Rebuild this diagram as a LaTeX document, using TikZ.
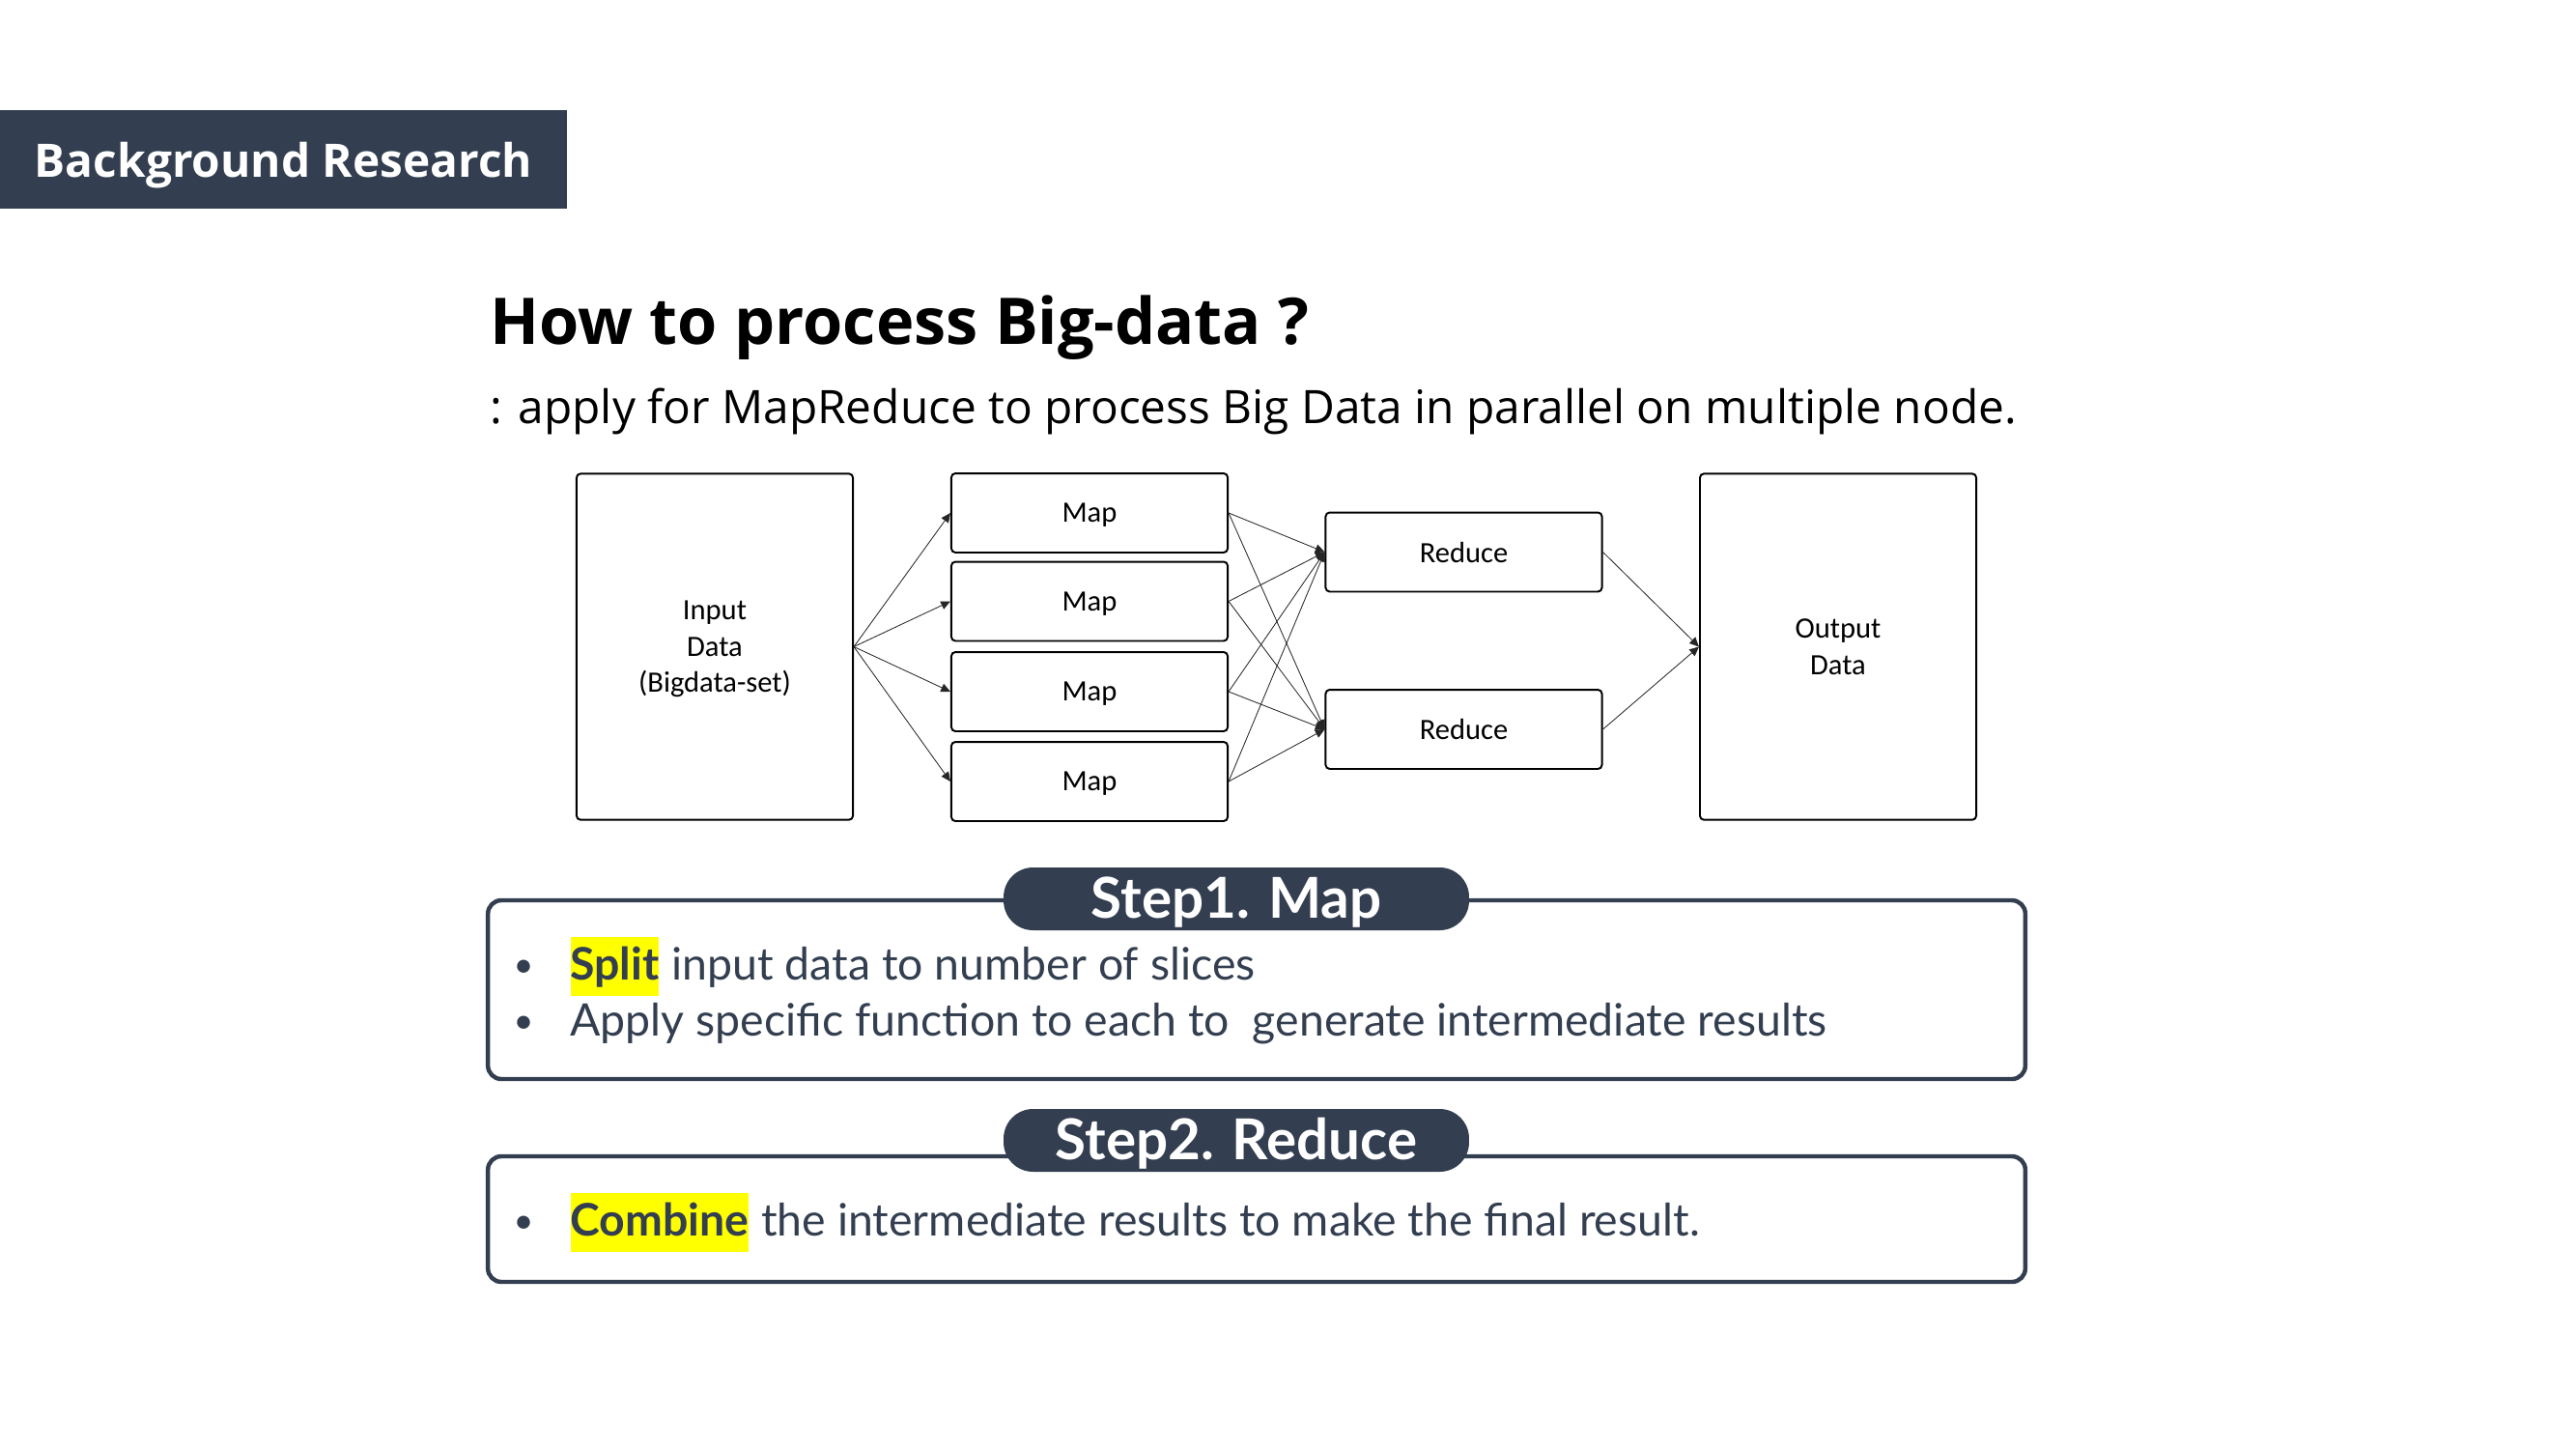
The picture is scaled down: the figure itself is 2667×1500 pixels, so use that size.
\documentclass[tikz,border=0pt]{standalone}
\usepackage{fontspec}
\setmainfont{Lato}
\newfontfamily\slidefont{Open Sans}
\newfontfamily\diagfont{Carlito}
\usetikzlibrary{positioning,arrows.meta}
\definecolor{navy}{HTML}{333F50}
\definecolor{hlyellow}{HTML}{FFFF00}
\tikzset{
  box/.style={draw=black, line width=0.7pt, rounded corners=1.5pt, fill=white,
    font=\diagfont\fontsize{11}{13.5}\selectfont, align=center, inner sep=0pt, text depth=0pt},
  mapbox/.style={box, minimum width=103pt, minimum height=29.5pt},
  databox/.style={box, minimum width=103pt, minimum height=129pt},
  flow/.style={-{Triangle[length=3.5pt,width=3.2pt]}, line width=0.3pt, draw=black!85},
  stepframe/.style={draw=navy, line width=1.6pt, rounded corners=5pt, minimum width=573pt, inner sep=0pt},
  steptag/.style={fill=navy, text=white, font=\bfseries\fontsize{21}{25}\selectfont,
    rounded corners=11pt, minimum width=173.5pt, minimum height=23.4pt, inner sep=0pt, text depth=1pt},
  bullettext/.style={anchor=base west, text=navy, font=\fontsize{16.7}{20}\selectfont, inner sep=0pt},
  dotmark/.style={bullettext, font=\fontsize{13}{20}\selectfont},
  hilite/.style={bullettext, fill=hlyellow, font=\bfseries\fontsize{16.7}{20}\selectfont,
    text height=14pt, text depth=4pt, inner ysep=2pt}
}
\begin{document}
\begin{tikzpicture}[x=0.36pt,y=-0.36pt]
\useasboundingbox (0,0) rectangle (2667,1500);
% header
\node[fill=navy, text=white, minimum width=211.3pt, minimum height=36.7pt, inner sep=0pt, text depth=0pt,
  font=\slidefont\bfseries\fontsize{17.2}{20}\selectfont] (header) at (293.5,165) {Background Research};
% title
\node[anchor=base west, inner sep=0pt, font=\slidefont\bfseries\fontsize{24}{28}\selectfont] (title) at (507,357) {How to process Big-data ?};
\node[anchor=base west, inner sep=0pt, font=\slidefont\fontsize{17.2}{20}\selectfont] (subtitle) at (507,439) {: apply for MapReduce to process Big Data in parallel on multiple node.};

% diagram
\node[databox] (input) at (740,669.5) {Input\\Data\\(Bigdata-set)};
\node[mapbox] (map1) at (1128,531) {Map};
\node[mapbox] (map2) at (1128,622.5) {Map};
\node[mapbox] (map3) at (1128,716) {Map};
\node[mapbox] (map4) at (1128,809) {Map};
\node[mapbox] (red1) at (1515.5,571.5) {Reduce};
\node[mapbox] (red2) at (1515.5,755) {Reduce};
\node[databox] (output) at (1903,669.5) {Output\\Data};

\foreach \m in {1,...,4}{
  \draw[flow] (input.east) -- (map\m.west);
  \foreach \r in {1,2}
    \draw[flow] (map\m.east) -- (red\r.west);
}
\foreach \r in {1,2}
  \draw[flow] (red\r.east) -- (output.west);

% step 1
\node[stepframe, minimum height=66.6pt] (frame1) at (1301,1024.5) {};
\node[steptag] (tag1) at (1280,930.5) {Step1. Map};
\node[dotmark] (dot1) at (531,1011) {•};
\node[hilite] (split) at (590,1014) {Split};
\node[bullettext] (split rest) at (split.base east) {\ input data to number of slices};
\node[dotmark] (dot2) at (531,1069) {•};
\node[bullettext] (apply) at (590,1072) {Apply specific function to each to\ \ generate intermediate results};

% step 2
\node[stepframe, minimum height=46.8pt] (frame2) at (1301,1262) {};
\node[steptag] (tag2) at (1280,1180.5) {Step2. Reduce};
\node[dotmark] (dot3) at (531,1276) {•};
\node[hilite] (combine) at (590,1279) {Combine};
\node[bullettext] (combine rest) at (combine.base east) {\ the intermediate results to make the final result.};
\end{tikzpicture}
\end{document}
